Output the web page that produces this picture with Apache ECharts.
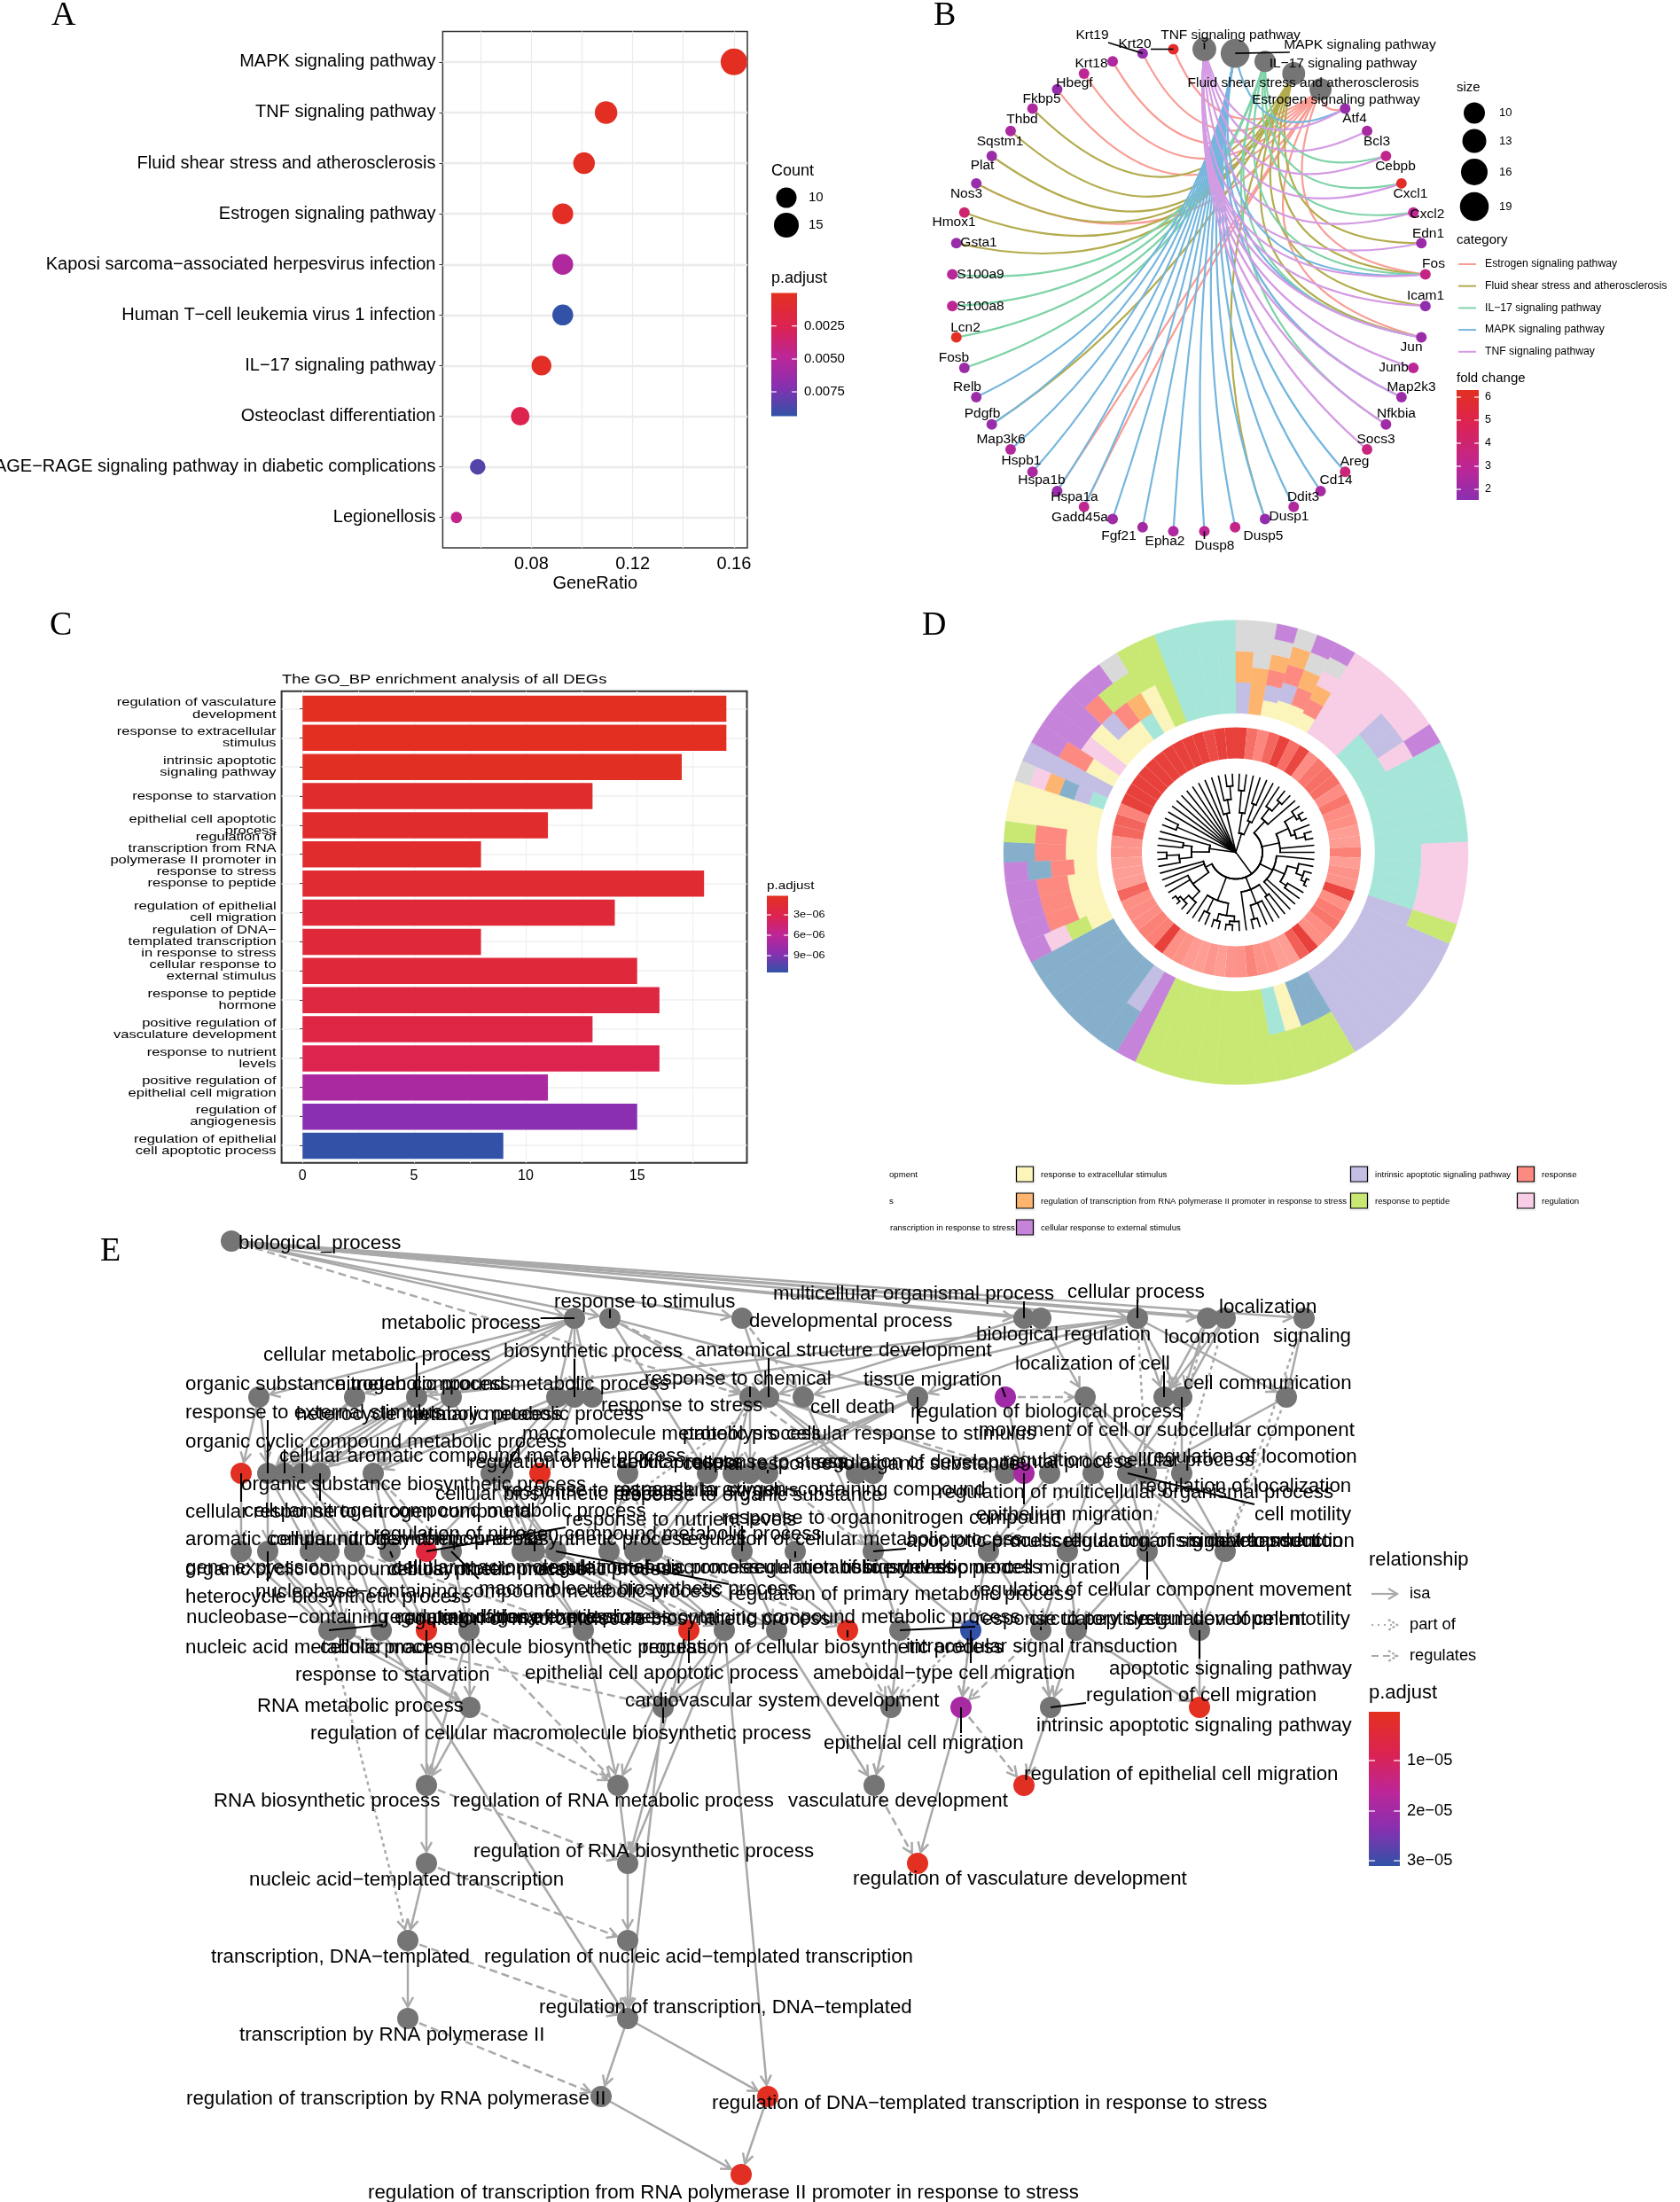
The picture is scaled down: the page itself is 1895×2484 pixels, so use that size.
<!DOCTYPE html>
<html><head><meta charset="utf-8">
<script src="https://cdn.jsdelivr.net/npm/echarts@6/dist/echarts.min.js"></script>
<style>html,body{margin:0;padding:0;background:#fff}#c{width:1895px;height:2484px}</style>
</head><body><div id="c"></div>
<script>
// ---------- Panel A data ----------
const keggTerms=['MAPK signaling pathway','TNF signaling pathway','Fluid shear stress and atherosclerosis','Estrogen signaling pathway','Kaposi sarcoma−associated herpesvirus infection','Human T−cell leukemia virus 1 infection','IL−17 signaling pathway','Osteoclast differentiation','AGE−RAGE signaling pathway in diabetic complications','Legionellosis'];
const keggRatio=[0.16,0.1095,0.1008,0.0924,0.0924,0.0924,0.084,0.0756,0.0588,0.0504];
const keggCount=[19,13,12,11,11,11,10,9,7,6];
const keggPadj=[0.0001,0.0001,0.0002,0.0003,0.0054,0.0093,0.0004,0.0024,0.0084,0.0044];
// ---------- Panel B data ----------
const pathways=['TNF signaling pathway','MAPK signaling pathway','IL−17 signaling pathway','Fluid shear stress and atherosclerosis','Estrogen signaling pathway'];
const pathwayCount=[13,19,10,12,11];
const genes=['Atf4','Bcl3','Cebpb','Cxcl1','Cxcl2','Edn1','Fos','Icam1','Jun','Junb','Map2k3','Nfkbia','Socs3','Areg','Cd14','Ddit3','Dusp1','Dusp5','Dusp8','Epha2','Fgf21','Gadd45a','Hspa1a','Hspa1b','Hspb1','Map3k6','Pdgfb','Relb','Fosb','Lcn2','S100a8','S100a9','Gsta1','Hmox1','Nos3','Plat','Sqstm1','Thbd','Fkbp5','Hbegf','Krt18','Krt19','Krt20'];
const geneFold=[1.9,2.3,3.2,6,3,2,3.4,1.7,2,2.9,2,2.1,3.6,3.8,2.3,2.6,1.8,3.3,3,2.5,2.2,2.1,3.1,1.9,2.4,2.6,1.9,2,2,6.2,3,2.8,2,4,1.9,2,2.4,2.5,1.8,3,2.5,1.8,6];
const estrogenGenes=['Atf4','Fos','Jun','Hspa1a','Hspa1b','Nos3','Fkbp5','Hbegf','Krt18','Krt19','Krt20'];
const fluidGenes=['Edn1','Fos','Icam1','Jun','Dusp1','Pdgfb','Thbd','Sqstm1','Plat','Nos3','Hmox1','Gsta1'];
const il17Genes=['Cebpb','Cxcl1','Cxcl2','Fos','Jun','Nfkbia','Fosb','Lcn2','S100a8','S100a9'];
const mapkGenes=['Atf4','Fos','Jun','Map2k3','Areg','Cd14','Ddit3','Dusp1','Dusp5','Dusp8','Epha2','Fgf21','Gadd45a','Hspa1a','Hspa1b','Hspb1','Map3k6','Pdgfb','Relb'];
const tnfGenes=['Atf4','Bcl3','Cebpb','Cxcl1','Cxcl2','Edn1','Fos','Icam1','Jun','Junb','Map2k3','Nfkbia','Socs3'];
const categoryNames=['Estrogen signaling pathway','Fluid shear stress and atherosclerosis','IL−17 signaling pathway','MAPK signaling pathway','TNF signaling pathway'];
const categoryColors=['#F99C94','#B3AC4E','#7FD3A8','#74B6DE','#D49BE3'];
// label anchor table (page pixels) for the repelled text in panel B
const geneLabelAt={Atf4:[1528,134],Bcl3:[1553,160],Cebpb:[1574,188],Cxcl1:[1591,219],Cxcl2:[1610,242],Edn1:[1611,264],Fos:[1617,298],Icam1:[1608,334],Jun:[1592,392],Junb:[1572,415],Map2k3:[1592,437],Nfkbia:[1575,467],Socs3:[1552,496],Areg:[1528,521],Cd14:[1507,542],Ddit3:[1470,561],Dusp1:[1454,583],Dusp5:[1425,605],Dusp8:[1370,616],Epha2:[1314,611],Fgf21:[1262,605],Gadd45a:[1218,584],Hspa1a:[1212,561],Hspa1b:[1175,542],Hspb1:[1152,520],Map3k6:[1129,496],Pdgfb:[1108,467],Relb:[1091,437],Fosb:[1076,404],Lcn2:[1089,370],S100a8:[1106,346],S100a9:[1106,310],Gsta1:[1104,274],Hmox1:[1076,251],Nos3:[1090,219],Plat:[1108,187],Sqstm1:[1128,160],Thbd:[1153,135],Fkbp5:[1175,112],Hbegf:[1212,94],Krt18:[1231,72],Krt19:[1232,40],Krt20:[1280,50],
'TNF signaling pathway':[1388,40],'MAPK signaling pathway':[1534,51],'IL−17 signaling pathway':[1515,72],'Fluid shear stress and atherosclerosis':[1470,94],'Estrogen signaling pathway':[1507,113]};
const geneLeaders=['TNF signaling pathway','MAPK signaling pathway','Krt19','Krt20','Dusp8'];
// ---------- Panel C data ----------
const goTerms=['regulation of vasculature\ndevelopment','response to extracellular\nstimulus','intrinsic apoptotic\nsignaling pathway','response to starvation','epithelial cell apoptotic\nprocess','regulation of\ntranscription from RNA\npolymerase II promoter in\nresponse to stress','response to peptide','regulation of epithelial\ncell migration','regulation of DNA−\ntemplated transcription\nin response to stress','cellular response to\nexternal stimulus','response to peptide\nhormone','positive regulation of\nvasculature development','response to nutrient\nlevels','positive regulation of\nepithelial cell migration','regulation of\nangiogenesis','regulation of epithelial\ncell apoptotic process'];
const goCount=[19,19,17,13,11,8,18,14,8,15,16,13,16,11,15,9];
const goPadj=[2e-7,2e-7,3e-7,9e-7,1e-6,1e-6,1.2e-6,1.7e-6,1.7e-6,1.8e-6,2.2e-6,2.4e-6,3.1e-6,7.2e-6,9e-6,1.2e-5];
// ---------- Panel D data ----------
const termColors={T:'#A5E6D9',Y:'#FBF5BC',L:'#C3BEE3',S:'#FC8A80',B:'#85AFCB',O:'#FDB46F',G:'#C8E873',P:'#F8CDE6',U:'#C583D9',A:'#D9D9D9'};
const sectorTerms=['AOL','AO','UAOSLY','AOSLY','UAOSY','UAPOSY','P','P','P','PLT','PLT','UPT','T','T','T','T','T','PT','PT','PT','PT','GL','L','L','L','L','L','L','L','GB','GB','GY','GT','G','G','G','G','G','G','G','U','BL','B','B','B','B','B','UPGY','USY','USY','USY','UBSY','BSY','GSY','Y','Y','APOBLT','L','USY','UP','UY','USLY','UGSY','AGOT','GY','G','T','T','T','T'];
const sectorFold=[1,.6,.38,.68,1,.62,.95,.3,.55,.6,.6,.3,.55,.3,.28,.12,.12,.45,.12,.25,.25,.95,.28,.5,.55,.3,.28,1,.75,.12,.12,.25,.25,.4,.25,.22,.12,.2,.12,.15,.25,.28,1,.45,.45,.3,.3,.28,.68,.12,.12,.12,.22,.22,.68,.7,.42,1,1,1,1,1,1,1,1,1,1,.92,1,1];
// dendrogram: [radius, ...children]; 0 is a leaf
const treeRoot=[0,
 [22,[45,[70,0,0],0],[38,[58,0,0],0]],
 [30,
  [48,[62,0,[75,0,0]],0],
  [50,[65,[78,0,[82,0,0]],[70,0,[80,0,0]]],0,0],
  [46,0,[60,[72,0,[80,0,[85,0,0]]],[68,0,0]],0,0],
  [45,[60,0,0],[62,0,0,[78,0,0]],0],
  [58,[72,[78,0,[82,0,0]],[80,0,0]],[75,0,0],0],
  [38,[60,[72,0,[80,0,[84,0,0]]],0,0],0,0]],
 [30,[50,[64,0,[78,0,0]],[60,0,0]],0],
 [72,0,0],0,0,0,0,0,0,0,0,
 [45,0,[60,0,[75,0,0]]]];
const legendD=[['opment',null,1003,1325],['response to extracellular stimulus','Y',1174,1325],['intrinsic apoptotic signaling pathway','L',1551,1325],['response','S',1739,1325],['s',null,1003,1355],['regulation of transcription from RNA polymerase II promoter in response to stress','O',1174,1355],['response to peptide','G',1551,1355],['regulation','P',1739,1355],['ranscription in response to stress',null,1004,1385],['cellular response to external stimulus','U',1174,1385]];
// ---------- Panel E data ----------
const rowY=[1400,1487,1576,1662,1750,1839,1926,2014,2102,2189,2277,2365,2453];
const rowX=[[261],[648,688,837,1155,1174,1283,1362,1382,1471],
[292,400,470,509,628,648,668,846,867,906,1035,1134,1224,1313,1333,1451],
[272,302,321,341,361,421,554,567,609,708,798,827,846,866,966,985,1134,1155,1184,1233,1272,1293,1333],
[272,302,350,371,400,440,481,509,589,603,627,687,716,736,837,897,985,1115,1204,1294,1382],
[371,390,430,481,529,658,777,817,876,956,1015,1095,1174,1214,1353],
[530,748,1005,1084,1185,1353],[481,697,986,1155],[481,708,1035],[460,708],[460,708],[678,866],[836]];
const nodePadj={c11:2e-5,d0:6e-7,d8:3e-7,d17:1.9e-5,e6:5e-6,f3:6e-7,f6:5e-7,f9:4e-7,f11:3.05e-5,g3:1.9e-5,g5:3e-7,h3:8e-7,i2:3e-7,l1:4e-7,m0:6e-7};
const isaEdges='a0>b0 a0>b1 a0>b2 a0>b3 a0>b4 a0>b5 a0>b6 a0>b7 a0>b8 b0>c0 b0>c1 b0>c2 b0>c3 b0>c4 b0>c5 b0>c6 b1>c7 b1>c10 b1>d10 b2>c8 b3>c8 b4>c12 b5>c2 b5>c5 b5>c9 b5>c13 b5>c14 b5>c15 b5>c10 b6>c14 b6>c13 b7>c13 b7>c14 b8>c15 c0>d0 c0>d1 c1>d1 c1>d2 c2>d1 c2>d2 c2>d3 c2>d4 c2>d5 c3>d3 c3>d5 c3>d6 c4>d5 c4>d6 c5>e6 c5>e8 c6>d2 c6>d3 c7>d10 c7>d11 c7>d12 c8>d14 c8>d16 c8>d15 c9>e16 c10>d11 c10>d12 c10>d13 c11>d17 c12>d18 c12>d19 c12>d20 c12>d21 c12>d22 c13>d20 c14>d20 c14>d22 c15>d21 d0>e0 d1>e1 d1>e2 d2>e3 d2>e4 d3>e4 d3>e5 d5>e5 d5>e6 d6>e8 d6>e10 d7>e9 d7>e10 d9>e11 d10>e12 d10>e13 d11>e14 d12>e13 d13>e15 d14>e16 d15>e16 d18>e17 d19>e18 d19>e19 d20>e19 d20>e20 d22>e20 d21>e18 d21>e20 e0>f0 e1>f0 e1>f1 e2>f1 e3>f1 e3>f2 e4>f2 e4>f3 e5>f3 e7>f4 e8>f5 e9>f5 e9>f6 e10>f6 e11>f6 e11>f7 e12>f7 e13>f8 e14>f8 e14>f9 e15>f9 e16>f10 e16>f11 e17>f11 e17>f12 e18>f12 e18>f13 e19>f13 e19>f14 e20>f14 f0>g0 f1>g0 f2>k1 f4>g0 f4>h0 f5>g1 f7>g1 f8>g1 f10>g2 f11>g3 f12>g4 f13>g4 f14>g5 f13>g5 f3>h0 f5>h1 f6>h1 f6>i1 f7>i1 f7>l1 g0>h0 g1>k1 g2>h2 g4>h3 g3>i2 h0>i0 h1>i1 i0>j0 i1>j1 j0>k0 j1>k1 k1>l0 k1>l1 l0>m0 l1>m0 f8>h2'.split(' ');
const partOfEdges='b8>e20 b6>e19 b5>d21 b7>d22 c15>e20 e17>f11 f11>g3 f12>g4 f0>j0 d4>e2 c8>e10 e19>f13 f11>g2'.split(' ');
const regulatesEdges='a0>c7 b1>c8 b2>c9 c11>c12 c7>d14 c8>d17 d5>e7 d6>e9 d9>e13 d13>e16 d19>e17 e4>f5 e10>f7 e13>f9 f0>g1 f4>h1 f9>g2 f12>g3 g0>h1 g2>h2 h2>i2 g3>h3 h0>i1 i0>j1 j0>k1 k0>l0'.split(' ');
// text, left edge, centre line, node the repel segment goes to
const goLabels=[
['biological_process',269,1401],['response to stimulus',625,1467,'b1'],['metabolic process',430,1491,'b0'],['developmental process',845,1489],['multicellular organismal process',872,1458,'b3'],['biological regulation',1101,1504],['cellular process',1204,1456,'b5'],['locomotion',1313,1507],['localization',1375,1473],['signaling',1436,1506],
['cellular metabolic process',297,1527,'c2'],['biosynthetic process',568,1523,'c5'],['anatomical structure development',784,1522,'c8'],['organic substance metabolic process',209,1560],['nitrogen compound metabolic process',378,1560],['response to chemical',727,1554,'c7'],['tissue migration',974,1555,'c11'],['localization of cell',1145,1537,'c13'],['cell communication',1335,1559],['response to stress',678,1584],['cell death',914,1586],['regulation of biological process',1027,1591],['response to external stimulus',209,1592,'d1'],['heterocycle metabolic process',334,1594],['primary metabolic process',466,1594],['macromolecule metabolic process',589,1616,'d7'],['cellular response to stimulus',887,1616,'c10'],['proteolysis',770,1616],['movement of cell or subcellular component',1104,1612,'c14'],['organic cyclic compound metabolic process',209,1625,'d2'],['cellular aromatic compound metabolic process',315,1641,'d3'],['regulation of metabolic process',529,1648],['cellular response to stress',697,1648,'d13'],['cellular response to organic substance',770,1650],['regulation of locomotion',1294,1642],['regulation of cellular process',1131,1646,'d21'],['regulation of developmental process',920,1648],
['organic substance biosynthetic process',272,1673],['cellular biosynthetic process',491,1684],['response to extracellular stimulus',570,1680],['response to oxygen−containing compound',692,1679],['response to organic substance',692,1685],['regulation of multicellular organismal process',1058,1682],['regulation of localization',1285,1675],['cellular nitrogen compound metabolic process',275,1703,'d4'],['cellular response to nitrogen compound',209,1704,'d0'],['response to nutrient levels',638,1713,'e6'],['response to organonitrogen compound',814,1711,'e14'],['epithelium migration',1101,1707,'d17'],['cell motility',1415,1707,'d20'],
['aromatic compound biosynthetic process',209,1735],['cellular nitrogen compound biosynthetic process',304,1735],['regulation of nitrogen compound metabolic process',421,1729,'e9'],['regulation of cellular metabolic process',768,1735],['apoptotic process',1022,1737,'e16'],['multicellular organism development',1140,1737],['signal transduction',1342,1737],['regulation of signal transduction',1200,1737],
['gene expression',209,1767],['organic cyclic compound biosynthetic process',209,1769],['cellular macromolecule metabolic process',443,1767,'e5'],['cellular protein metabolic process',437,1769],['regulation of macromolecule metabolic process',611,1767],['regulation of biosynthetic process',844,1767,'e15'],['tissue development',950,1767],['cell migration',1132,1767],['heterocycle biosynthetic process',209,1800],['nucleobase−containing compound metabolic process',288,1794,'e1'],['macromolecule biosynthetic process',540,1791,'e7'],['regulation of primary metabolic process',822,1797,'e10'],['regulation of cellular component movement',1098,1792,'e19'],
['nucleobase−containing compound biosynthetic process',210,1823],['regulation of gene expression',432,1823,'f0'],['regulation of macromolecule biosynthetic process',448,1825],['regulation of nucleobase−containing compound metabolic process',497,1823],['response to peptide',1100,1825,'f10'],['circulatory system development',1161,1825,'f12'],['regulation of cell motility',1285,1825],['nucleic acid metabolic process',209,1857],['cellular macromolecule biosynthetic process',361,1857],['regulation of cellular biosynthetic process',724,1857,'f9'],['intracellular signal transduction',1022,1856],['response to starvation',333,1888,'f3'],['epithelial cell apoptotic process',592,1886,'f6'],['ameboidal−type cell migration',917,1886,'f11'],['apoptotic signaling pathway',1251,1881,'f14'],
['regulation of cell migration',1225,1911,'g4'],['RNA metabolic process',290,1923],['cardiovascular system development',705,1917],['intrinsic apoptotic signaling pathway',1169,1945],['regulation of cellular macromolecule biosynthetic process',350,1954,'g1'],['epithelial cell migration',929,1965,'g3'],['regulation of epithelial cell migration',1155,2000],['RNA biosynthetic process',241,2030],['regulation of RNA metabolic process',511,2030],['vasculature development',889,2030],['regulation of RNA biosynthetic process',534,2087],['regulation of vasculature development',962,2118],['nucleic acid−templated transcription',281,2119],['transcription, DNA−templated',238,2206],['regulation of nucleic acid−templated transcription',546,2206],['regulation of transcription, DNA−templated',608,2263],['transcription by RNA polymerase II',270,2294],['regulation of transcription by RNA polymerase II',210,2366],['regulation of DNA−templated transcription in response to stress',803,2371],['regulation of transcription from RNA polymerase II promoter in response to stress',415,2472]];

// ---------- helpers ----------
const SANS='"Liberation Sans",Arial,sans-serif';
const FONT_E='22.3px '+SANS;
function hex(c){return [1,3,5].map(i=>parseInt(c.substr(i,2),16));}
function ramp(stops,t){t=Math.max(0,Math.min(1,t));for(let i=1;i<stops.length;i++){if(t<=stops[i][0]){const a=stops[i-1],b=stops[i],f=(t-a[0])/(b[0]-a[0]||1),x=hex(a[1]),y=hex(b[1]);return 'rgb('+x.map((v,k)=>Math.round(v+(y[k]-v)*f)).join(',')+')';}}return stops[stops.length-1][1];}
const padjStops=[[0,'#E3301F'],[.27,'#DC2351'],[.52,'#BC2698'],[.75,'#8A2FB0'],[1,'#3152A7']];
const foldStops=[[0,'#E3301F'],[.3,'#DC2351'],[.72,'#BC2698'],[1,'#8A2FB0']];
const ringStops=[[0,'#FFA79E'],[.5,'#FB7C72'],[1,'#E8413C']];
function gradient(stops){return new echarts.graphic.LinearGradient(0,0,0,1,stops.map(s=>({offset:s[0],color:s[1]})));}
function txt(t,x,y,size,o){o=o||{};return {type:'text',x,y,scaleX:o.sx||1,silent:true,z:50,style:{text:t,font:(o.weight||'')+' '+size+'px '+(o.family||SANS),fill:o.fill||'#000',align:o.align||'left',verticalAlign:'middle'}};}
function rect(x,y,w,h,st){return {type:'rect',silent:true,z:49,shape:{x,y,width:w,height:h},style:st};}
function line(x1,y1,x2,y2,st){return {type:'line',silent:true,z:50,shape:{x1,y1,x2,y2},style:Object.assign({stroke:'#000',lineWidth:1.5},st)};}
function colorBar(x,y,w,h,stops,tickY){const g=[rect(x,y,w,h,{fill:gradient(stops)})];tickY.forEach(t=>{g.push(line(x,t,x+w*.2,t,{stroke:'#fff',lineWidth:1.2}));g.push(line(x+w*.8,t,x+w,t,{stroke:'#fff',lineWidth:1.2}));});return g;}

// ---------- graphic legends ----------
const g=[];
[['A',58,18],['B',1053,18],['C',56,706],['D',1040,706],['E',113,1412]].forEach(p=>g.push(txt(p[0],p[1],p[2],38,{family:'"Liberation Serif",serif'})));
// A legends
g.push(txt('Count',870,193,18));
[[223,10,23],[254,15,28]].forEach(r=>{g.push({type:'circle',silent:true,z:49,shape:{cx:887,cy:r[0],r:r[2]/2},style:{fill:'#000'}});g.push(txt(String(r[1]),912,r[0],15));});
g.push(txt('p.adjust',870,314,18));
g.push(...colorBar(870,330.5,29,139,padjStops,[367.7,405,442]));
[['0.0025',367.7],['0.0050',405],['0.0075',442]].forEach(r=>g.push(txt(r[0],907,r[1],15)));
// B legends
g.push(txt('size',1643,99,15));
[[127.5,'10',24],[159,'13',27],[194,'16',30],[233,'19',32.5]].forEach(r=>{g.push({type:'circle',silent:true,z:49,shape:{cx:1663,cy:r[0],r:r[2]/2},style:{fill:'#000'}});g.push(txt(r[1],1691,r[0],13));});
g.push(txt('category',1643,271,15));
categoryNames.forEach((n,i)=>{const y=298+i*24.7;g.push(line(1645,y,1665,y,{stroke:categoryColors[i],lineWidth:2}));g.push(txt(n,1675,y,12.2));});
g.push(txt('fold change',1643,427,15));
g.push(...colorBar(1643,440,25,124,foldStops,[448,474,500,526,552]));
[['6',448],['5',474],['4',500],['3',526],['2',552]].forEach(r=>g.push(txt(r[0],1675,r[1],12.5)));
// C legend
g.push(txt('The GO_BP enrichment analysis of all DEGs',318,767,14.5,{sx:1.27}));
g.push(txt('p.adjust',865,1000,12,{sx:1.27}));
g.push(...colorBar(865,1010.4,24,86.6,padjStops,[1032,1055,1078]));
[['3e−06',1032],['6e−06',1055],['9e−06',1078]].forEach(r=>g.push(txt(r[0],895,r[1],10,{sx:1.27})));
// D legend
legendD.forEach(r=>{if(r[1]){g.push(rect(r[2]-29,r[3]-11,23,22,{fill:'#F2F2F2'}));g.push(rect(r[2]-27.5,r[3]-9,19,17,{fill:termColors[r[1]],stroke:'#000',lineWidth:1.2}));}g.push(txt(r[0],r[2],r[3],9.6));});
// E legends
g.push(txt('relationship',1544,1760,22));
[['isa',1798,null],['part of',1833,[2,5]],['regulates',1868,[8,5]]].forEach(r=>{g.push(line(1547,r[1],1576,r[1],{stroke:'#A9A9A9',lineWidth:2.2,lineDash:r[2]}));g.push({type:'polyline',silent:true,z:50,shape:{points:[[1566,r[1]-6],[1576,r[1]],[1566,r[1]+6]]},style:{stroke:'#A9A9A9',lineWidth:2.2,fill:null,lineDash:r[2]?[3,2]:null}});g.push(txt(r[0],1590,r[1],18.3));});
g.push(txt('p.adjust',1544,1910,22));
g.push(...colorBar(1544,1931,35,174,padjStops,[1986,2043,2099]));
[['1e−05',1986],['2e−05',2043],['3e−05',2099]].forEach(r=>g.push(txt(r[0],1587,r[1],18.3)));

// ---------- Panel A computed ----------
const minC=Math.min(...keggCount),maxC=Math.max(...keggCount);
function countSize(c){return 12.8+17.2*Math.sqrt((c-minC)/(maxC-minC));}
const dataA=keggTerms.map((n,i)=>({value:[keggRatio[i],i],symbolSize:countSize(keggCount[i]),itemStyle:{opacity:1,color:ramp(padjStops,keggPadj[i]/0.0093)}}));
// ---------- Panel B computed ----------
const circleNodes=pathways.concat(genes);
function circleXY(i){const a=(3.75+7.5*i)*Math.PI/180;return [Math.sin(a),Math.cos(a)];}
const posB={};circleNodes.forEach((n,i)=>posB[n]=circleXY(i));
const dataB=circleNodes.map((n,i)=>{const p=posB[n];if(i<5)return {value:p,symbolSize:24+(pathwayCount[i]-10)*.95,itemStyle:{opacity:1,color:'#757575'}};return {value:p,symbolSize:12,itemStyle:{opacity:1,color:ramp(foldStops,(6.3-geneFold[i-5])/4.75)}};});
const edgesB=[];
[[4,estrogenGenes,0],[3,fluidGenes,1],[2,il17Genes,2],[1,mapkGenes,3],[0,tnfGenes,4]].forEach(r=>r[1].forEach(gn=>edgesB.push(posB[pathways[r[0]]].concat(posB[gn],[r[2]]))));
function renderEdgeB(params,api){
  const a=api.coord([api.value(0),api.value(1)]),b=api.coord([api.value(2),api.value(3)]),c=api.coord([0,0]);
  const mx=(a[0]+b[0])/2,my=(a[1]+b[1])/2,dx=c[0]-mx,dy=c[1]-my,dist=Math.hypot(dx,dy)||1,chord=Math.hypot(a[0]-b[0],a[1]-b[1]);
  const off=Math.min(.65*chord,1.05*dist);
  return {type:'bezierCurve',shape:{x1:a[0],y1:a[1],x2:b[0],y2:b[1],cpx1:mx+dx/dist*off,cpy1:my+dy/dist*off},style:{stroke:categoryColors[api.value(4)],lineWidth:2.2,fill:null}};
}
// ---------- Panel D computed ----------
const stackLevels=[0,1,2,3,4,5].map(k=>sectorTerms.map(s=>{const inner=s.split('').reverse();if(k>=inner.length)return '-';const col=termColors[inner[k]];return {value:1/inner.length,itemStyle:{color:col,borderColor:col,borderWidth:.4}};}));
const sectorNames=sectorTerms.map((s,i)=>String(i));
const treeSegs=[];
(function(){let leaf=0;function walk(n,parentR){if(n===0){const a=leaf+.5;leaf++;treeSegs.push([parentR,a,88,a]);return a;}
  const r=n[0];const angs=n.slice(1).map(c=>walk(c,r));const lo=Math.min(...angs),hi=Math.max(...angs);
  for(let t=lo;t<hi;t+=.25)treeSegs.push([r,t,r,Math.min(t+.25,hi)]);
  const a=(lo+hi)/2;if(parentR!==null)treeSegs.push([parentR,a,r,a]);return a;}
  treeRoot.slice(1).forEach(c=>walk(c,0));})();
// ---------- Panel E computed ----------
const letters='abcdefghijklm';const posE={};
rowX.forEach((xs,r)=>xs.forEach((x,i)=>posE[letters[r]+i]=[x,rowY[r]]));
const dataE=Object.keys(posE).map(id=>({value:posE[id],itemStyle:{opacity:1,color:nodePadj[id]?ramp(padjStops,nodePadj[id]/3.07e-5):'#757575'}}));
const edgesE=[];
[[isaEdges,0],[partOfEdges,1],[regulatesEdges,2]].forEach(r=>r[0].forEach(e=>{const [s,t]=e.split('>');edgesE.push(posE[s].concat(posE[t],[r[1]]));}));
function renderEdgeE(params,api){
  const a=api.coord([api.value(0),api.value(1)]),b=api.coord([api.value(2),api.value(3)]),ty=api.value(4);
  const d=Math.hypot(b[0]-a[0],b[1]-a[1])||1,ux=(b[0]-a[0])/d,uy=(b[1]-a[1])/d;
  const ex=b[0]-ux*13,ey=b[1]-uy*13,dash=ty===1?[4,4]:ty===2?[9,5]:null,st={stroke:'#A9A9A9',lineWidth:2.5,fill:null};
  const al=11,aw=6;
  return {type:'group',children:[
    {type:'line',shape:{x1:a[0],y1:a[1],x2:ex,y2:ey},style:Object.assign({lineDash:dash},st)},
    {type:'polyline',shape:{points:[[ex-ux*al-uy*aw,ey-uy*al+ux*aw],[ex,ey],[ex-ux*al+uy*aw,ey-uy*al-ux*aw]]},style:st}]};
}
const measure=document.createElement('canvas').getContext('2d');
measure.font=FONT_E;
const leadersE=goLabels.filter(l=>l[3]).map(l=>{const n=posE[l[3]],w=measure.measureText(l[0]).width,px=Math.max(l[1],Math.min(l[1]+w,n[0])),py=Math.max(l[2]-10,Math.min(l[2]+10,n[1]));return [n[0],n[1],px,py];});

function renderPageText(list,font,align,dy){return function(params,api){const p=api.coord([api.value(0),api.value(1)]);return {type:'text',x:p[0],y:p[1]+(dy||0),style:{text:list[params.dataIndex],font,fill:'#000',align,verticalAlign:'middle'}};};}
function leaderLine(params,api){const a=api.coord([api.value(0),api.value(1)]),b=api.coord([api.value(2),api.value(3)]);return {type:'line',shape:{x1:a[0],y1:a[1],x2:b[0],y2:b[1]},style:{stroke:'#000',lineWidth:2}};}

const hidden={show:false};
const option={
 animation:false,backgroundColor:'#fff',
 graphic:{elements:g},
 grid:[
  {left:499.4,top:35.6,width:343.6,height:582.4,show:true,borderColor:'#333',borderWidth:1.5,outerBoundsMode:'none'},
  {left:317.6,top:779.7,width:524.9,height:532.1,show:true,borderColor:'#333',borderWidth:2,outerBoundsMode:'none'},
  {left:317.6,top:783,width:524.9,height:526,outerBoundsMode:'none'},
  {left:1341-267.4,top:327.4-272.5,width:534.8,height:545,outerBoundsMode:'none'},
  {left:0,top:0,width:1895,height:2484,outerBoundsMode:'none'}],
 xAxis:[
  {gridIndex:0,type:'value',min:0.045,max:0.1653,axisLine:hidden,
   axisTick:{show:false,customValues:[.06,.08,.10,.12,.14,.16]},
   axisLabel:{customValues:[.08,.12,.16],fontFamily:SANS,fontSize:20,color:'#000',margin:8,formatter:v=>v.toFixed(2)},
   splitLine:{show:true,lineStyle:{color:'#EBEBEB',width:1.2}},
   name:'GeneRatio',nameLocation:'middle',nameGap:30,nameTextStyle:{fontFamily:SANS,fontSize:20,color:'#000'}},
  {gridIndex:1,type:'value',min:-0.94,max:19.92,axisLine:hidden,
   axisTick:{show:false,customValues:[0,2.5,5,7.5,10,12.5,15,17.5]},
   axisLabel:{customValues:[0,5,10,15],fontFamily:SANS,fontSize:16,color:'#000',margin:7},
   splitLine:{show:true,lineStyle:{color:'#EFEFEF',width:1}}},
  {gridIndex:2,type:'value',min:-0.94,max:19.92,show:false},
  {gridIndex:3,type:'value',min:-1,max:1,show:false},
  {gridIndex:4,type:'value',min:0,max:1895,show:false}],
 yAxis:[
  {gridIndex:0,type:'value',min:-0.6,max:9.6,inverse:true,axisLine:hidden,
   axisTick:{show:true,length:4,customValues:keggTerms.map((_,i)=>i),lineStyle:{color:'#333'}},
   axisLabel:{customValues:keggTerms.map((_,i)=>i),formatter:v=>keggTerms[v],fontFamily:SANS,fontSize:20,color:'#000',margin:8,padding:[5,0,0,0]},
   splitLine:{show:true,lineStyle:{color:'#EBEBEB',width:2.4}}},
  {gridIndex:1,type:'value',min:-0.6,max:15.6,inverse:true,axisLine:hidden,
   axisTick:{show:true,length:3,customValues:goTerms.map((_,i)=>i),lineStyle:{color:'#333'}},
   axisLabel:{show:false,customValues:goTerms.map((_,i)=>i)},
   splitLine:{show:true,lineStyle:{color:'#EFEFEF',width:1.5}}},
  {gridIndex:2,type:'category',data:goTerms,inverse:true,show:false},
  {gridIndex:3,type:'value',min:-1,max:1,show:false},
  {gridIndex:4,type:'value',min:0,max:2484,inverse:true,show:false}],
 polar:[
  {center:[1394,961.5],radius:[157,262]},
  {center:[1394,961.5],radius:[106,141]},
  {center:[1394,961.5],radius:[0,92]}],
 angleAxis:[
  {polarIndex:0,type:'category',data:sectorNames,startAngle:90,clockwise:true,show:false},
  {polarIndex:1,type:'category',data:sectorNames,startAngle:90,clockwise:true,show:false},
  {polarIndex:2,type:'value',min:0,max:sectorTerms.length,startAngle:90,clockwise:true,show:false}],
 radiusAxis:[
  {polarIndex:0,type:'value',min:0,max:1,show:false},
  {polarIndex:1,type:'value',min:0,max:1,show:false},
  {polarIndex:2,type:'value',min:0,max:92,show:false}],
 series:[
  // A
  {type:'scatter',xAxisIndex:0,yAxisIndex:0,data:dataA,z:5},
  // C
  {type:'bar',xAxisIndex:2,yAxisIndex:2,barWidth:'90%',z:5,data:goCount.map((v,i)=>({value:v,itemStyle:{color:ramp(padjStops,goPadj[i]/1.2e-5)}}))},
  {type:'custom',xAxisIndex:1,yAxisIndex:1,z:6,data:goTerms.map((_,i)=>[-0.94,i]),renderItem(params,api){const p=api.coord([api.value(0),api.value(1)]);return {type:'text',x:p[0]-6,y:p[1],scaleX:1.27,style:{text:goTerms[params.dataIndex],font:'13px '+SANS,lineHeight:13.1,fill:'#000',align:'right',verticalAlign:'middle'}};}},
  // B
  {type:'custom',xAxisIndex:3,yAxisIndex:3,z:3,data:edgesB,renderItem:renderEdgeB},
  {type:'scatter',xAxisIndex:3,yAxisIndex:3,z:4,data:dataB},
  {type:'custom',xAxisIndex:3,yAxisIndex:3,z:6,data:geneLeaders.map(n=>posB[n]),
   renderItem(params,api){const n=api.coord([api.value(0),api.value(1)]);const name=geneLeaders[params.dataIndex],lab=geneLabelAt[name],w=name.length*7.2;const tx=Math.max(lab[0]-w/2,Math.min(lab[0]+w/2,n[0])),ty=Math.max(lab[1]-8,Math.min(lab[1]+8,n[1]));return {type:'line',shape:{x1:n[0],y1:n[1],x2:tx,y2:ty},style:{stroke:'#000',lineWidth:1.6}};}},
  {type:'custom',xAxisIndex:4,yAxisIndex:4,z:7,data:circleNodes.map(n=>geneLabelAt[n]),renderItem:renderPageText(circleNodes,'15.5px '+SANS,'center')},
  // D
  ...stackLevels.map(d=>({type:'bar',coordinateSystem:'polar',polarIndex:0,stack:'terms',barCategoryGap:'0%',data:d,z:2})),
  {type:'bar',coordinateSystem:'polar',polarIndex:1,barCategoryGap:'0%',z:2,data:sectorFold.map(v=>({value:1,itemStyle:{color:ramp(ringStops,v)}}))},
  {type:'custom',coordinateSystem:'polar',polarIndex:2,z:3,data:treeSegs,renderItem(params,api){const a=api.coord([api.value(0),api.value(1)]),b=api.coord([api.value(2),api.value(3)]);return {type:'line',shape:{x1:a[0],y1:a[1],x2:b[0],y2:b[1]},style:{stroke:'#000',lineWidth:1.6,lineCap:'square'}};}},
  // E
  {type:'custom',xAxisIndex:4,yAxisIndex:4,z:3,data:edgesE,renderItem:renderEdgeE},
  {type:'scatter',xAxisIndex:4,yAxisIndex:4,z:4,symbolSize:24,data:dataE},
  {type:'custom',xAxisIndex:4,yAxisIndex:4,z:6,data:leadersE,renderItem:leaderLine},
  {type:'custom',xAxisIndex:4,yAxisIndex:4,z:7,data:goLabels.map(l=>[l[1],l[2]]),renderItem:renderPageText(goLabels.map(l=>l[0]),FONT_E,'left',1.5)}
 ]
};
echarts.init(document.getElementById('c'),null,{renderer:'canvas',width:1895,height:2484}).setOption(option);
</script></body></html>
